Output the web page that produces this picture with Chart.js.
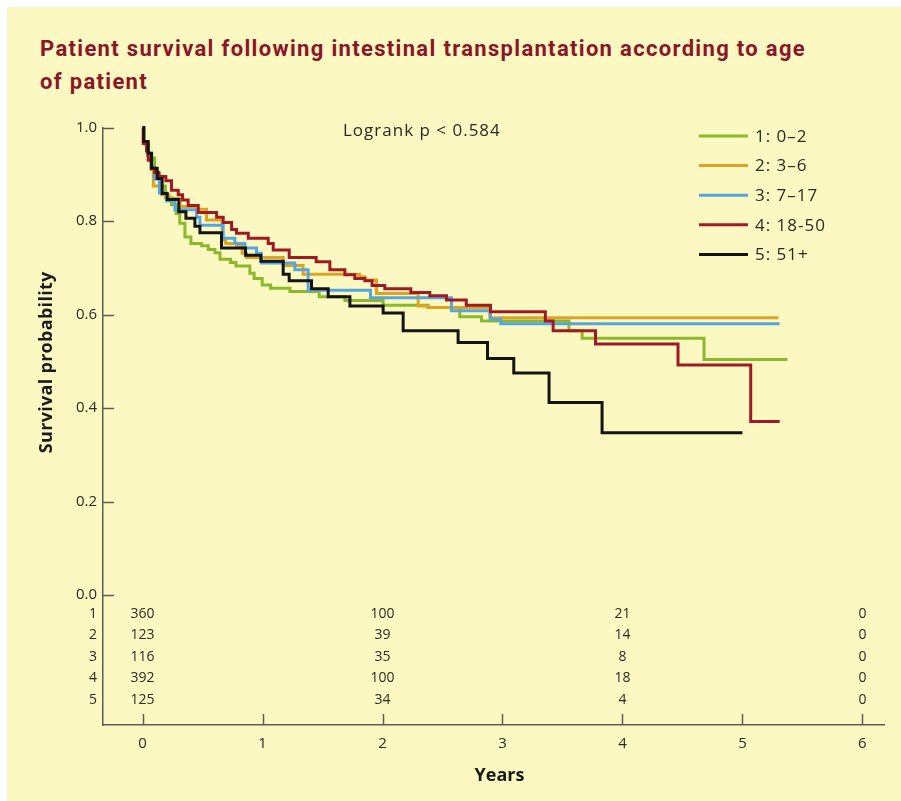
<!DOCTYPE html>
<html>
<head>
<meta charset="utf-8">
<script src="https://cdn.jsdelivr.net/npm/chart.js@4.4.1/dist/chart.umd.min.js"></script>
<style>
    html, body { margin: 0; padding: 0; background: #fff; }
    #frame {
        position: absolute; left: 7px; top: 7px; width: 894px; height: 794px;
        background: #fbf8c2;
    }
    #title {
        position: absolute; left: 40px; top: 32px; width: 850px;
        font-family: 'Roboto', sans-serif; font-weight: bold; font-size: 22px;
        line-height: 33px; color: #8b1628; white-space: nowrap;
    }
    #chart { position: absolute; left: 0; top: 0; }
</style>
</head>
<body>
<div id="frame"></div>
<div id="title"><span id="t1">Patient survival following intestinal transplantation according to age</span><br><span>of patient</span></div>
<canvas id="chart" width="901" height="801"></canvas>
<script>
// group labels / colours
const groupLabels = ['1: 0–2', '2: 3–6', '3: 7–17', '4: 18-50', '5: 51+'];
const groupColors = ['#8cb82b', '#dea325', '#56a6de', '#9e1b25', '#141414'];

// Kaplan-Meier steps (years, survival)
const g1Time = [0, 0.01, 0.05, 0.10, 0.14, 0.19, 0.24, 0.28, 0.31, 0.353, 0.403, 0.492, 0.547, 0.603, 0.645, 0.733, 0.778, 0.894, 0.93, 0.997, 1.067, 1.228, 1.472, 1.686, 2.005, 2.378, 2.644, 2.825, 3.554, 3.664, 4.68, 5.375];
const g1Surv = [1.0, 0.965, 0.935, 0.90, 0.875, 0.85, 0.835, 0.816, 0.795, 0.766, 0.752, 0.747, 0.739, 0.732, 0.718, 0.711, 0.704, 0.688, 0.677, 0.663, 0.656, 0.649, 0.638, 0.63, 0.62, 0.615, 0.595, 0.586, 0.565, 0.549, 0.504, 0.504];

const g2Time = [0, 0.01, 0.04, 0.07, 0.09, 0.158, 0.22, 0.311, 0.444, 0.533, 0.663, 0.692, 0.783, 0.83, 0.867, 1.172, 1.338, 1.81, 1.853, 1.95, 2.297, 2.38, 2.894, 5.30];
const g2Surv = [1.0, 0.97, 0.94, 0.91, 0.875, 0.856, 0.848, 0.831, 0.825, 0.802, 0.759, 0.752, 0.748, 0.731, 0.722, 0.705, 0.686, 0.681, 0.674, 0.645, 0.618, 0.615, 0.593, 0.593];

const g3Time = [0, 0.01, 0.04, 0.07, 0.10, 0.14, 0.2, 0.269, 0.45, 0.478, 0.672, 0.769, 0.853, 0.95, 0.99, 1.269, 1.38, 1.9, 2.575, 2.9, 2.986, 5.31];
const g3Surv = [1.0, 0.97, 0.945, 0.915, 0.89, 0.86, 0.843, 0.824, 0.808, 0.791, 0.763, 0.752, 0.742, 0.731, 0.71, 0.696, 0.652, 0.636, 0.608, 0.59, 0.58, 0.58];

const g4Time = [0, 0.005, 0.033, 0.047, 0.075, 0.10, 0.136, 0.194, 0.241, 0.297, 0.333, 0.38, 0.464, 0.617, 0.672, 0.742, 0.783, 0.881, 1.047, 1.089, 1.222, 1.447, 1.561, 1.686, 1.769, 1.853, 1.913, 2.019, 2.236, 2.394, 2.533, 2.698, 2.9, 3.357, 3.422, 3.775, 4.463, 5.069, 5.31];
const g4Surv = [1.0, 0.966, 0.95, 0.93, 0.913, 0.904, 0.895, 0.886, 0.866, 0.856, 0.845, 0.833, 0.818, 0.808, 0.797, 0.782, 0.774, 0.763, 0.752, 0.738, 0.722, 0.713, 0.696, 0.685, 0.677, 0.672, 0.662, 0.655, 0.647, 0.64, 0.631, 0.62, 0.606, 0.586, 0.565, 0.537, 0.492, 0.371, 0.371];

const g5Time = [0, 0.01, 0.047, 0.075, 0.122, 0.163, 0.205, 0.302, 0.361, 0.436, 0.478, 0.658, 0.858, 0.986, 1.172, 1.222, 1.408, 1.547, 1.728, 2.005, 2.172, 2.63, 2.875, 3.094, 3.388, 3.83, 5.0];
const g5Surv = [1.0, 0.97, 0.945, 0.913, 0.891, 0.859, 0.846, 0.82, 0.806, 0.789, 0.775, 0.742, 0.727, 0.714, 0.686, 0.672, 0.655, 0.638, 0.618, 0.603, 0.565, 0.54, 0.506, 0.475, 0.412, 0.347, 0.347];

// axis ticks
const xTicks = [0, 1, 2, 3, 4, 5, 6];
const yTicks = [0, 0.2, 0.4, 0.6, 0.8, 1.0];

// numbers at risk
const riskTimes = [0, 2, 4, 6];
const risk1 = [360, 100, 21, 0];
const risk2 = [123, 39, 14, 0];
const risk3 = [116, 35, 8, 0];
const risk4 = [392, 100, 18, 0];
const risk5 = [125, 34, 4, 0];

const logrankText = 'Logrank p < 0.584';

const FONT = "'Open Sans', sans-serif";
const INK = '#2a2a26';
const AXIS = '#5d5d55';

// stretch the title's first line to the width it has in print
const t1 = document.getElementById('t1');
const t1Chars = t1.textContent.length;
document.getElementById('title').style.letterSpacing = ((766 - t1.getBoundingClientRect().width) / t1Chars) + 'px';

const groups = [[g1Time, g1Surv], [g2Time, g2Surv], [g3Time, g3Surv], [g4Time, g4Surv], [g5Time, g5Surv]];
const riskRows = [risk1, risk2, risk3, risk4, risk5];

const datasets = groups.map(([t, s], i) => ({
    label: groupLabels[i],
    data: t.map((x, k) => ({ x, y: s[k] })),
    borderColor: groupColors[i],
    borderWidth: 3,
    stepped: true,
    pointRadius: 0,
    fill: false,
    clip: 6,
    order: 5 - i
}));

const decor = {
    id: 'decor',
    afterDraw(chart) {
        const { ctx, scales: { x, y } } = chart;
        const left = x.left, bottom = y.bottom;
        ctx.save();
        ctx.strokeStyle = AXIS;
        ctx.lineWidth = 1.5;

        // inward tick marks
        yTicks.forEach(v => {
            const py = Math.round(y.getPixelForValue(v)) + 0.5;
            ctx.beginPath(); ctx.moveTo(left, py); ctx.lineTo(left + 11, py); ctx.stroke();
        });
        xTicks.forEach(v => {
            const px = Math.round(x.getPixelForValue(v)) + 0.5;
            ctx.beginPath(); ctx.moveTo(px, bottom); ctx.lineTo(px, bottom - 11); ctx.stroke();
        });

        // axis titles
        ctx.fillStyle = '#1a1a1a';
        ctx.font = `bold 18px ${FONT}`;
        ctx.textAlign = 'center';
        ctx.textBaseline = 'middle';
        ctx.fillText('Years', x.getPixelForValue(3) - 3, 776);
        ctx.save();
        ctx.translate(47, (y.getPixelForValue(0) + y.getPixelForValue(1)) / 2 + 1);
        ctx.rotate(-Math.PI / 2);
        ctx.letterSpacing = '0.3px';
        ctx.fillText('Survival probability', 0, 0);
        ctx.restore();

        // numbers at risk
        ctx.fillStyle = INK;
        ctx.font = `14px ${FONT}`;
        const y0 = y.getPixelForValue(0);
        riskRows.forEach((row, i) => {
            const py = y0 + 18.5 + i * 21.5;
            ctx.textAlign = 'right';
            ctx.fillText(String(i + 1), left - 6, py);
            ctx.textAlign = 'center';
            row.forEach((n, k) => ctx.fillText(String(n), x.getPixelForValue(riskTimes[k]), py));
        });

        // logrank
        ctx.font = `17px ${FONT}`;
        ctx.letterSpacing = '1px';
        ctx.textAlign = 'left';
        ctx.fillText(logrankText, 343, 131);

        // legend
        chart.data.datasets.forEach((ds, i) => {
            const py = 136 + i * 29.6;
            ctx.strokeStyle = ds.borderColor;
            ctx.lineWidth = 3;
            ctx.beginPath(); ctx.moveTo(699, py); ctx.lineTo(748, py); ctx.stroke();
            ctx.fillStyle = INK;
            ctx.fillText(ds.label, 755, py + 1);
        });
        ctx.restore();
    }
};

new Chart(document.getElementById('chart'), {
    type: 'line',
    data: { datasets },
    plugins: [decor],
    options: {
        responsive: false,
        animation: false,
        layout: { padding: { left: 0, right: 17, top: 127.5, bottom: 0 } },
        plugins: { legend: { display: false }, tooltip: { enabled: false } },
        scales: {
            x: {
                type: 'linear', min: -0.33, max: 6.18,
                afterBuildTicks: s => { s.ticks = xTicks.map(value => ({ value })); },
                afterFit: s => { s.height = 76; },
                grid: { display: false, drawTicks: false },
                border: { display: true, color: AXIS, width: 1.5 },
                ticks: { padding: 10, color: INK, font: { family: FONT, size: 15 }, maxRotation: 0, autoSkip: false }
            },
            y: {
                type: 'linear', min: -0.278, max: 1.0,
                afterBuildTicks: s => { s.ticks = yTicks.map(value => ({ value })); },
                afterFit: s => { s.width = 103; },
                grid: { display: false, drawTicks: false },
                border: { display: true, color: AXIS, width: 1.5 },
                ticks: { padding: 6, color: INK, font: { family: FONT, size: 15 }, callback: v => v.toFixed(1) }
            }
        }
    }
});
</script>
</body>
</html>
